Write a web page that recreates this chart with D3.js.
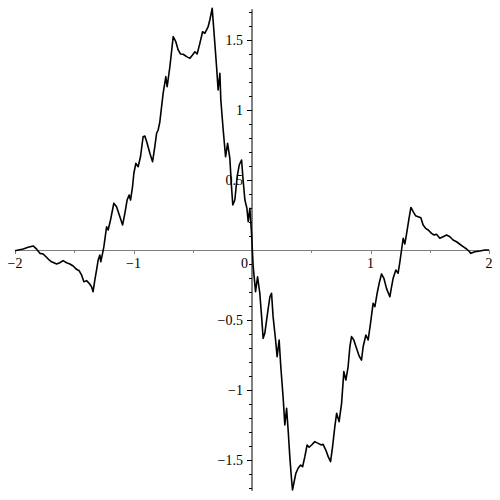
<!DOCTYPE html>
<html>
<head>
<meta charset="utf-8">
<script src="https://cdn.jsdelivr.net/npm/d3@7"></script>
<style>
  html, body { margin: 0; padding: 0; background: #fff; }
  svg { display: block; }
  text { font-family: "Liberation Serif", "Times New Roman", serif; font-size: 14px; fill: #000; }
</style>
</head>
<body>
<svg id="chart" width="500" height="500"></svg>
<script>
// ---- data ----
const xs = [-2.0,-1.931,-1.889,-1.847,-1.824,-1.790,-1.762,-1.734,-1.712,-1.692,-1.672,-1.649,-1.622,-1.594,-1.565,-1.537,-1.509,-1.481,-1.459,-1.438,-1.419,-1.396,-1.374,-1.354,-1.341,-1.326,-1.312,-1.298,-1.284,-1.276,-1.261,-1.250,-1.227,-1.214,-1.194,-1.166,-1.143,-1.115,-1.092,-1.073,-1.054,-1.037,-1.025,-1.008,-0.997,-0.980,-0.961,-0.941,-0.919,-0.904,-0.885,-0.862,-0.839,-0.820,-0.805,-0.792,-0.778,-0.750,-0.727,-0.716,-0.693,-0.665,-0.643,-0.623,-0.603,-0.581,-0.552,-0.524,-0.502,-0.482,-0.463,-0.440,-0.417,-0.398,-0.370,-0.356,-0.336,-0.322,-0.299,-0.286,-0.271,-0.263,-0.243,-0.223,-0.206,-0.187,-0.173,-0.162,-0.145,-0.125,-0.108,-0.088,-0.075,-0.060,-0.043,-0.032,-0.018,-0.004,0.003,0.010,0.030,0.047,0.066,0.081,0.094,0.108,0.131,0.151,0.165,0.178,0.199,0.212,0.229,0.243,0.263,0.277,0.292,0.305,0.319,0.334,0.342,0.353,0.370,0.389,0.410,0.427,0.446,0.465,0.482,0.503,0.530,0.558,0.587,0.600,0.623,0.643,0.663,0.680,0.699,0.714,0.735,0.756,0.775,0.792,0.811,0.826,0.840,0.859,0.882,0.904,0.924,0.938,0.961,0.980,1.000,1.022,1.037,1.056,1.073,1.093,1.113,1.135,1.163,1.178,1.191,1.214,1.233,1.248,1.262,1.276,1.290,1.304,1.324,1.341,1.360,1.380,1.402,1.425,1.444,1.465,1.487,1.515,1.537,1.557,1.585,1.613,1.642,1.670,1.697,1.726,1.754,1.782,1.811,1.830,1.847,1.881,1.923,1.965,2.0];
const ys = [-0.005,0.007,0.019,0.029,0.012,-0.024,-0.029,-0.052,-0.071,-0.084,-0.091,-0.100,-0.091,-0.076,-0.091,-0.100,-0.114,-0.138,-0.148,-0.179,-0.226,-0.219,-0.238,-0.262,-0.298,-0.214,-0.143,-0.071,-0.036,-0.084,-0.024,0.024,0.166,0.143,0.214,0.334,0.309,0.238,0.179,0.262,0.357,0.393,0.357,0.452,0.548,0.619,0.595,0.666,0.809,0.814,0.762,0.691,0.631,0.738,0.834,0.857,0.914,1.119,1.238,1.166,1.309,1.524,1.488,1.429,1.400,1.398,1.381,1.369,1.393,1.416,1.400,1.476,1.559,1.548,1.595,1.643,1.726,1.571,1.309,1.143,1.262,1.071,0.857,0.666,0.762,0.655,0.452,0.321,0.357,0.524,0.607,0.643,0.500,0.357,0.298,0.202,0.298,0.119,0,-0.119,-0.298,-0.191,-0.309,-0.476,-0.631,-0.595,-0.452,-0.334,-0.309,-0.476,-0.643,-0.762,-0.643,-0.834,-1.057,-1.250,-1.131,-1.286,-1.476,-1.643,-1.714,-1.666,-1.595,-1.559,-1.536,-1.548,-1.476,-1.393,-1.409,-1.393,-1.369,-1.381,-1.393,-1.388,-1.429,-1.476,-1.512,-1.405,-1.262,-1.166,-1.226,-1.095,-0.869,-0.929,-0.834,-0.691,-0.619,-0.643,-0.702,-0.757,-0.786,-0.691,-0.607,-0.643,-0.524,-0.381,-0.405,-0.309,-0.238,-0.171,-0.202,-0.274,-0.334,-0.262,-0.202,-0.143,-0.166,-0.084,0,0.084,0.043,0.114,0.221,0.304,0.274,0.245,0.238,0.231,0.179,0.155,0.143,0.119,0.107,0.112,0.084,0.095,0.107,0.095,0.071,0.059,0.041,0.024,0.007,-0.007,-0.024,-0.012,-0.007,0,0];

const xDomain = [-2, 2];
const yDomain = [-1.72, 1.72];
const xMajorTicks = [-2, -1, 0, 1, 2];
const xMinorTicks = [-1.5, -0.5, 0.5, 1.5];
const xTickLabels = ["\u22122", "\u22121", "0", "1", "2"];
const yMajorTicks = [-1.5, -1, -0.5, 0.5, 1, 1.5];
const yTickLabels = ["\u22121.5", "\u22121", "\u22120.5", "0.5", "1", "1.5"];
const yMinorTicks = d3.range(-17, 18).map(i => i / 10).filter(v => v !== 0 && Math.abs((v * 2) - Math.round(v * 2)) > 1e-9);

// ---- drawing ----
const svg = d3.select("#chart");
const x = d3.scaleLinear().domain(xDomain).range([15, 489]);
const y = d3.scaleLinear().domain(yDomain).range([250 + 1.72 * 140, 250 - 1.72 * 140]);

const points = xs.map((v, i) => [v, ys[i]]);

// horizontal axis
const gx = svg.append("g");
gx.append("line")
  .attr("x1", x(-2)).attr("x2", x(2))
  .attr("y1", y(0) + 0.5).attr("y2", y(0) + 0.5)
  .attr("stroke", "#808080").attr("stroke-width", 1);
gx.selectAll("line.maj").data(xMajorTicks).join("line")
  .attr("class", "maj")
  .attr("x1", d => Math.round(x(d)) + 0.5).attr("x2", d => Math.round(x(d)) + 0.5)
  .attr("y1", y(0)).attr("y2", y(0) + 4)
  .attr("stroke", "#808080");
gx.selectAll("line.min").data(xMinorTicks).join("line")
  .attr("class", "min")
  .attr("x1", d => Math.round(x(d)) + 0.5).attr("x2", d => Math.round(x(d)) + 0.5)
  .attr("y1", y(0)).attr("y2", y(0) + 3)
  .attr("stroke", "#808080");
gx.selectAll("text").data(xMajorTicks).join("text")
  .attr("x", d => d === 0 ? x(0) - 4 : x(d))
  .attr("y", y(0) + 18)
  .attr("text-anchor", d => d === 0 ? "end" : "middle")
  .text((d, i) => xTickLabels[i]);

// vertical axis
const gy = svg.append("g");
gy.append("line")
  .attr("x1", x(0)).attr("x2", x(0))
  .attr("y1", y(yDomain[1])).attr("y2", y(yDomain[0]))
  .attr("stroke", "#000").attr("stroke-width", 1);
gy.selectAll("line.maj").data(yMajorTicks).join("line")
  .attr("class", "maj")
  .attr("x1", x(0) - 5).attr("x2", x(0))
  .attr("y1", d => Math.round(y(d)) + 0.5).attr("y2", d => Math.round(y(d)) + 0.5)
  .attr("stroke", "#000");
gy.selectAll("line.min").data(yMinorTicks).join("line")
  .attr("class", "min")
  .attr("x1", x(0) - 3).attr("x2", x(0))
  .attr("y1", d => Math.round(y(d)) + 0.5).attr("y2", d => Math.round(y(d)) + 0.5)
  .attr("stroke", "#000");
gy.selectAll("text").data(yMajorTicks).join("text")
  .attr("x", x(0) - 9)
  .attr("y", d => y(d))
  .attr("dy", "0.35em")
  .attr("text-anchor", "end")
  .text((d, i) => yTickLabels[i]);

// curve
svg.append("path")
  .datum(points)
  .attr("fill", "none")
  .attr("stroke", "#000")
  .attr("stroke-width", 1.6)
  .attr("stroke-linejoin", "round")
  .attr("d", d3.line().x(d => x(d[0])).y(d => y(d[1])));
</script>
</body>
</html>
